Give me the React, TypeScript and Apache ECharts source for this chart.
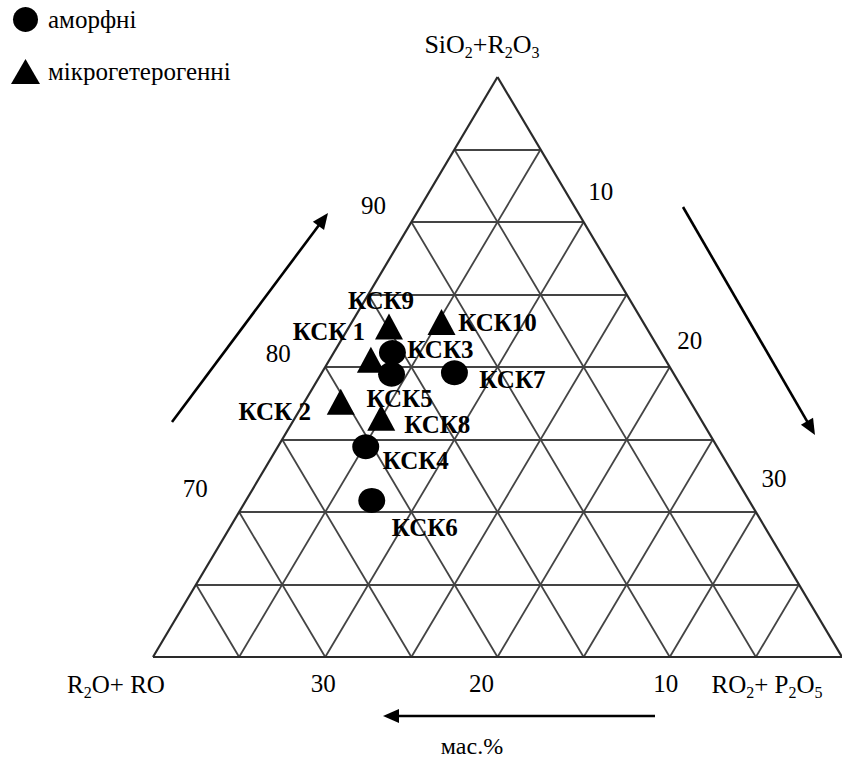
import React, { useEffect, useRef } from "react";
import * as echarts from "echarts";

// ---- data (mass %) ----
const sampleNames = ["КСК 1", "КСК 2", "КСК3", "КСК4", "КСК5", "КСК6", "КСК7", "КСК8", "КСК9", "КСК10"];
const sampleKind = ["micro", "micro", "amorph", "amorph", "amorph", "amorph", "amorph", "micro", "micro", "micro"];
const siO2R2O3 = [80.5, 77.6, 81.0, 74.5, 79.5, 70.8, 79.6, 76.5, 82.8, 83.1];
const r2oRO = [17.1, 20.3, 15.6, 20.4, 16.4, 21.9, 12.7, 18.5, 14.9, 11.7];
// RO2+P2O5 = 100 - (SiO2+R2O3) - (R2O+RO)

const leftTicks = [90, 80, 70]; // SiO2+R2O3
const rightTicks = [10, 20, 30]; // RO2+P2O5
const bottomTicks = [30, 20, 10]; // R2O+RO
const gridSteps = [5, 10, 15, 20, 25, 30, 35];

// ---- styling ----
const FONT = "'Liberation Serif', 'Times New Roman', serif";
const labelOffsets: Record<string, number[]> = {
  "КСК 1": [-42, -28],
  "КСК 2": [-66, 10],
  "КСК3": [48, -3],
  "КСК4": [50, 14],
  "КСК5": [8, 24],
  "КСК6": [53, 27],
  "КСК7": [58, 7],
  "КСК8": [56, 7],
  "КСК9": [-8, -26],
  "КСК10": [56, 0],
};
const leftTickOffsets = [[-38, -17], [-47, -14], [-44, -24]];
const rightTickOffsets = [[17, -31], [20, -27], [18, -34]];
const bottomTickOffsets = [[-2, 26], [-16, 26], [-4, 26]];

// ternary -> cartesian (x: 0..40, y = SiO2+R2O3 60..100)
function toXY(s: number, a: number): number[] {
  const b = 100 - s - a;
  return [b + (s - 60) / 2, s];
}

function arrow(x1: number, y1: number, x2: number, y2: number) {
  const len = Math.hypot(x2 - x1, y2 - y1);
  const ux = (x2 - x1) / len;
  const uy = (y2 - y1) / len;
  const hl = 16;
  const hw = 7;
  const bx = x2 - ux * hl;
  const by = y2 - uy * hl;
  return [
    { type: "line", shape: { x1, y1, x2: bx + ux * 2, y2: by + uy * 2 }, style: { stroke: "#000", lineWidth: 2.6 } },
    {
      type: "polygon",
      shape: { points: [[x2, y2], [bx - uy * hw, by + ux * hw], [bx + uy * hw, by - ux * hw]] },
      style: { fill: "#000" },
    },
  ];
}

export default function App() {
  const ref = useRef<HTMLDivElement>(null);
  useEffect(() => {
    if (!ref.current) return;
    const chart = echarts.init(ref.current, null, { renderer: "svg" });

    const gridLines: any[] = [];
    gridSteps.forEach((v) => {
      const s = 60 + v;
      gridLines.push({ coords: [toXY(s, 100 - s), toXY(s, 0)] });
      gridLines.push({ coords: [toXY(60, 40 - v), toXY(100 - v, 0)] });
      gridLines.push({ coords: [toXY(60, v), toXY(100 - v, v)] });
    });
    const outline = [
      { coords: [toXY(60, 40), toXY(60, 0)] },
      { coords: [toXY(60, 0), toXY(100, 0)] },
      { coords: [toXY(100, 0), toXY(60, 40)] },
    ];

    const pointData = (kind: string) =>
      sampleNames
        .map((n, i) => ({ n, i }))
        .filter((d) => sampleKind[d.i] === kind)
        .map(({ n, i }) => ({
          name: n,
          value: toXY(siO2R2O3[i], r2oRO[i]),
          label: { offset: labelOffsets[n] },
        }));

    const dataLabel = {
      show: true,
      position: "inside",
      formatter: (p: any) => p.name,
      fontFamily: FONT,
      fontWeight: "bold",
      fontSize: 25,
      color: "#000",
    };

    const tickLabel = {
      show: true,
      position: "inside",
      fontFamily: FONT,
      fontSize: 25,
      color: "#000",
      formatter: (p: any) => p.name,
    };

    const tickSeries = (ticks: number[], pos: (t: number) => number[], offs: number[][]) => ({
      type: "scatter",
      silent: true,
      clip: false,
      symbolSize: 1,
      itemStyle: { color: "rgba(0,0,0,0)", opacity: 1 },
      label: tickLabel,
      z: 5,
      data: ticks.map((t, i) => ({ name: String(t), value: pos(t), label: { offset: offs[i] } })),
    });

    const sub = { fontSize: 16, lineHeight: 20, verticalAlign: "bottom", fontFamily: FONT, fill: "#000" };
    const corner = (text: string, x: number, y: number, size: number) => ({
      type: "text",
      x,
      y,
      style: {
        text,
        fontFamily: FONT,
        fontSize: size,
        lineHeight: 32,
        fill: "#000",
        align: "center",
        verticalAlign: "middle",
        rich: { s: sub },
      },
    });

    chart.setOption({
      animation: false,
      backgroundColor: "#fff",
      grid: { left: 153, top: 77, width: 693, height: 580 },
      xAxis: { type: "value", min: 0, max: 40, show: false },
      yAxis: { type: "value", min: 60, max: 100, show: false },
      legend: {
        orient: "vertical",
        left: 6,
        top: 2,
        itemWidth: 29,
        itemHeight: 25,
        itemGap: 27,
        selectedMode: false,
        textStyle: { fontFamily: FONT, fontSize: 25, color: "#000", padding: [8, 0, 0, 3] },
        data: [
          { name: "аморфні", icon: "circle" },
          { name: "мікрогетерогенні", icon: "triangle" },
        ],
      },
      series: [
        {
          type: "lines",
          coordinateSystem: "cartesian2d",
          silent: true,
          lineStyle: { color: "#444", width: 1.8, opacity: 1 },
          data: gridLines,
          z: 1,
        },
        {
          type: "lines",
          coordinateSystem: "cartesian2d",
          silent: true,
          lineStyle: { color: "#2a2a2a", width: 2.2, opacity: 1 },
          data: outline,
          z: 2,
        },
        {
          name: "аморфні",
          type: "scatter",
          symbol: "circle",
          symbolSize: [27, 25],
          clip: false,
          itemStyle: { color: "#000", opacity: 1 },
          label: dataLabel,
          z: 10,
          data: pointData("amorph"),
        },
        {
          name: "мікрогетерогенні",
          type: "scatter",
          symbol: "triangle",
          symbolSize: [28, 26],
          clip: false,
          itemStyle: { color: "#000", opacity: 1 },
          label: dataLabel,
          z: 10,
          data: pointData("micro"),
        },
        tickSeries(leftTicks, (t) => toXY(t, 100 - t), leftTickOffsets),
        tickSeries(rightTicks, (t) => toXY(100 - t, 0), rightTickOffsets),
        tickSeries(bottomTicks, (t) => toXY(60, t), bottomTickOffsets),
      ],
      graphic: [
        corner("SiO{s|2}+R{s|2}O{s|3}", 482, 44, 26),
        corner("R{s|2}O+ RO", 116, 684, 25),
        corner("RO{s|2}+ P{s|2}O{s|5}", 767, 684, 25),
        {
          type: "text",
          x: 472,
          y: 746,
          style: {
            text: "мас.%",
            fontFamily: FONT,
            fontSize: 24,
            fill: "#000",
            align: "center",
            verticalAlign: "middle",
          },
        },
        ...arrow(172, 422, 328, 213),
        ...arrow(683, 207, 815, 435),
        ...arrow(655, 716, 383, 716),
      ],
    } as any);

    return () => chart.dispose();
  }, []);

  return <div ref={ref} style={{ position: "absolute", left: 0, top: 0, width: 842, height: 762 }} />;
}
